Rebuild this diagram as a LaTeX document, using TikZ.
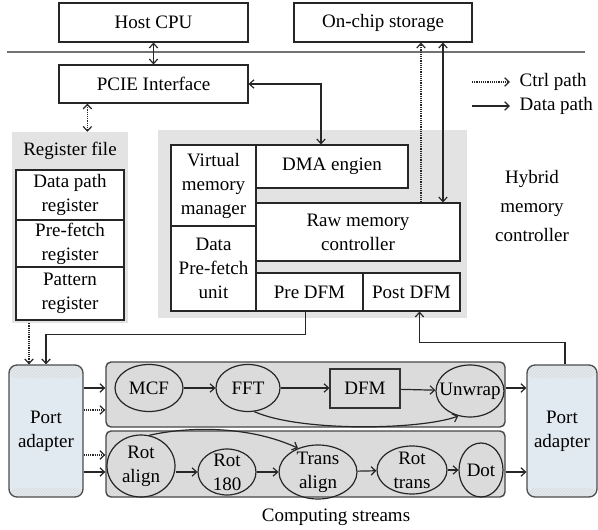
\documentclass[tikz,border=0pt]{standalone}
\usepackage{fontspec}
\setmainfont{Liberation Serif}
\usetikzlibrary{arrows.meta,shapes.geometric,calc,patterns}
\definecolor{portblue}{RGB}{226,234,241}
\begin{document}
\begin{tikzpicture}[x=1pt,y=-1pt,
  every node/.style={font=\fontsize{19}{24}\selectfont, inner sep=0pt},
  >={Straight Barb[length=4.5pt,width=8.5pt]},
  blk/.style={draw=black!85, line width=1.2pt, fill=white, align=center},
  panel/.style={fill=black!11, draw=none},
  strm/.style={draw=black!72, line width=1.4pt, fill=black!14, rounded corners=5pt},
  hatch/.style={pattern=north east lines, pattern color=black!16},
  port/.style={draw=black!70, line width=1.3pt, fill=portblue, rounded corners=8pt, align=center,
    path picture={
      \fill[hatch] (path picture bounding box.north west) rectangle ([yshift=-13pt]path picture bounding box.north east);
      \fill[hatch] ([yshift=9pt]path picture bounding box.south west) rectangle (path picture bounding box.south east);}},
  op/.style={ellipse, draw=black!85, line width=1.2pt},
  optext/.style={align=center},
  dp/.style={line width=1.2pt, draw=black!85},
  cp/.style={dp, densely dotted},
]
\useasboundingbox[fill=white] (0,0) rectangle (598,530);

% host side
\node[blk, minimum width=189pt, minimum height=39pt] (cpu) at (153.5,22.5) {Host CPU};
\node[blk, minimum width=178pt, minimum height=39pt] (store) at (383,22.5) {On-chip storage};
\draw[line width=1.6pt, black!55] (7,52) -- (585,52);
\node[blk, minimum width=189pt, minimum height=38pt] (pcie) at (153.5,84) {PCIE Interface};

% register file
\node[panel, minimum width=116pt, minimum height=191pt] (regbg) at (70,227.5) {};
\node (regtitle) at (70,151) {Register file};
\node[blk, minimum width=108pt, minimum height=50pt] (dpreg) at (70,195) {Data path\\register};
\node[blk, minimum width=108pt, minimum height=47pt] (pfreg) at (70,243.5) {Pre-fetch\\register};
\node[blk, minimum width=108pt, minimum height=53pt] (patreg) at (70,293.5) {Pattern\\register};

% hybrid memory controller
\node[panel, minimum width=309pt, minimum height=188pt] (hmcbg) at (312.5,224) {};
\node[blk, minimum width=85pt, minimum height=81pt] (vmm) at (213.5,185.5) {Virtual\\memory\\manager};
\node[blk, minimum width=85pt, minimum height=85pt] (dpf) at (213.5,268.5) {Data\\Pre-fetch\\unit};
\node[blk, minimum width=152pt, minimum height=43pt] (dma) at (332,166.5) {DMA engien};
\node[blk, minimum width=204pt, minimum height=58pt] (raw) at (358,232) {Raw memory\\controller};
\node[blk, minimum width=107pt, minimum height=38pt] (pre) at (309.5,292) {Pre DFM};
\node[blk, minimum width=97pt, minimum height=38pt] (post) at (411.5,292) {Post DFM};
\node[align=center, font=\fontsize{19}{29}\selectfont] (hmctext) at (532,206) {Hybrid\\memory\\controller};

% legend
\coordinate (lg1) at (472,82);
\coordinate (lg2) at (472,106);
\draw[cp,->] (lg1) -- ++(38,0) node[anchor=west, xshift=9pt] (lt1) {Ctrl path};
\draw[dp,->] (lg2) -- ++(38,0) node[anchor=west, xshift=9pt] (lt2) {Data path};

% port adapters and streams
\node[port, minimum width=74pt, minimum height=132pt] (pal) at (46,431) {Port\\adapter};
\node[port, minimum width=70pt, minimum height=132pt] (par) at (562,431) {Port\\adapter};
\node[strm, minimum width=399pt, minimum height=65pt] (s1) at (305.5,394.5) {};
\node[strm, minimum width=399pt, minimum height=66pt] (s2) at (305.5,464) {};

\node[op, minimum width=68pt, minimum height=47pt, label={[name=mcfT]center:MCF}] (mcf) at (149,388) {};
\node[op, minimum width=64pt, minimum height=47pt, label={[name=fftT]center:FFT}] (fft) at (248,388) {};
\node[draw=black!80, line width=1.2pt, minimum width=70pt, minimum height=39pt] (dfm) at (365,388.5) {DFM};
\node[op, minimum width=68pt, minimum height=52pt, label={[name=unwrapT]center:Unwrap}] (unwrap) at (470,391) {};

\node[op, minimum width=68pt, minimum height=62pt, label={[name=rotalignT, optext]center:Rot\\align}] (rotalign) at (141,466) {};
\node[op, minimum width=58pt, minimum height=46pt, label={[name=rot180T, optext]center:Rot\\180}] (rot180) at (227,472) {};
\node[op, minimum width=78pt, minimum height=54pt, label={[name=transalignT, optext]center:Trans\\align}] (transalign) at (318,472) {};
\node[op, minimum width=70pt, minimum height=48pt, label={[name=rottransT, optext]center:Rot\\trans}] (rottrans) at (412,470) {};
\node[op, minimum width=44pt, minimum height=54pt, label={[name=dotT]center:Dot}] (dot) at (481,470) {};
\node (cs) at (336,517) {Computing streams};

% host-side connectors
\draw[dp,<->] (cpu.south) -- (pcie.north);
\coordinate (pciedot) at ($(pcie.south west)+(29,0)$);
\draw[cp,<->] (pciedot) -- (pciedot |- regbg.north);
\draw[dp,<->] (pcie.east) -| ($(dma.north)+(-11,0)$);
\coordinate (rawdot) at ($(raw.north)+(63,0)$);
\coordinate (rawdat) at ($(raw.north)+(85,0)$);
\draw[cp,->] (rawdot) -- (rawdot |- store.south);
\draw[dp,<->] (rawdat |- store.south) -- (rawdat);

% controller to port adapters
\coordinate (regdot) at ($(pal.north)+(-17,0)$);
\draw[cp,->] (regdot |- regbg.south) -- (regdot);
\draw[dp,->] ($(pre.south)+(-4,0)$) -- ++(0,23) -| (pal.north);
\draw[dp,->] ($(par.north)+(3,0)$) -- ++(0,-22) -| ($(post.south)+(8,0)$);

% port adapters to streams
\draw[dp,->] (pal.east |- mcf) -- (s1.west |- mcf);
\draw[cp,->] ($(pal.east |- mcf)+(0,22)$) -- ($(s1.west |- mcf)+(0,22)$);
\draw[cp,->] ($(pal.east |- rot180)+(0,-17)$) -- ($(s2.west |- rot180)+(0,-17)$);
\draw[dp,->] (pal.east |- rot180) -- (s2.west |- rot180);
\draw[dp,->] (s1.east |- mcf) -- (par.west |- mcf);
\draw[dp,->] (s2.east |- rot180) -- (par.west |- rot180);

% stream internals
\draw[dp,->] (mcf) -- (fft);
\draw[dp,->] (fft.east) -- (dfm.west |- fft.east);
\draw[dp,->] (dfm) -- (unwrap);
\draw[dp,->] (fft.-75) .. controls (300,432) and (420,430) .. (unwrap.-115);
\draw[dp,->] (rotalign.east |- rot180) -- (rot180);
\draw[dp,->] (rot180) -- (transalign);
\draw[dp,->] (transalign) -- (rottrans);
\draw[dp,->] (rottrans) -- (dot);
\draw[dp,->] (rotalign.75) .. controls (190,426) and (250,426) .. (transalign.130);
\end{tikzpicture}
\end{document}
